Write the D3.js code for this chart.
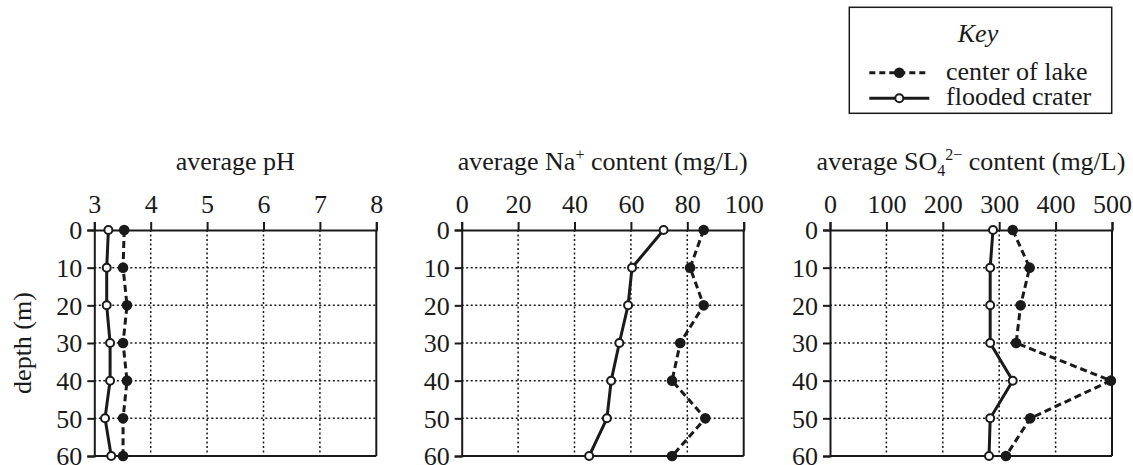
<!DOCTYPE html>
<html>
<head>
<meta charset="utf-8">
<script src="https://cdn.jsdelivr.net/npm/d3@7"></script>
</head>
<body style="margin:0;padding:0;background:#fff;font-family:'Liberation Serif',serif">
<svg id="chart" width="1133" height="465" style="display:block;font-family:'Liberation Serif',serif" font-family="Liberation Serif"></svg>
<script>
// ---- data ----
const depths = [0, 10, 20, 30, 40, 50, 60];
const depthTicks = [0, 10, 20, 30, 40, 50, 60];

const phCenter  = [3.53, 3.51, 3.58, 3.51, 3.58, 3.51, 3.51];
const phCrater  = [3.25, 3.22, 3.22, 3.28, 3.28, 3.19, 3.30];
const phTicks   = [3, 4, 5, 6, 7, 8];

const naCenter  = [85.8, 81.0, 85.8, 77.5, 74.6, 86.4, 74.6];
const naCrater  = [71.6, 60.4, 59.0, 55.9, 53.0, 51.5, 45.2];
const naTicks   = [0, 20, 40, 60, 80, 100];

const so4Center = [324, 354, 338, 330, 498, 355, 312];
const so4Crater = [289, 284, 284, 284, 324, 284, 282];
const so4Ticks  = [0, 100, 200, 300, 400, 500];

const seriesNames = ["center of lake", "flooded crater"];
const yLabel = "depth (m)";

// ---- layout ----
const svg = d3.select("#chart");
const ink = "#1a1a1a";
const FS = 26;
const yTop = 230, yBot = 456;
const panelW = 282;
const y = d3.scaleLinear().domain([0, 60]).range([yTop, yBot]);

function txt(sel) {
  return sel.attr("font-family", "Liberation Serif")
    .style("font-family", '"Liberation Serif"')
    .attr("font-size", FS).attr("fill", ink);
}

const panels = [
  { x0: 94.3,  ticks: phTicks,  center: phCenter,  crater: phCrater,
    title: [{t: "average pH"}] },
  { x0: 461.7, ticks: naTicks,  center: naCenter,  crater: naCrater,
    title: [{t: "average Na"}, {t: "+", sup: true}, {t: " content (mg/L)"}] },
  { x0: 830,   ticks: so4Ticks, center: so4Center, crater: so4Crater,
    title: [{t: "average SO"}, {t: "4", sub: true}, {t: "2\u2212", sup: true}, {t: " content (mg/L)"}] }
];

panels.forEach(p => {
  const x = d3.scaleLinear()
    .domain([p.ticks[0], p.ticks[p.ticks.length - 1]])
    .range([p.x0, p.x0 + panelW]);
  const g = svg.append("g");

  const innerX = p.ticks.slice(1, -1);
  g.selectAll(".vg").data(innerX).enter().append("line")
    .attr("x1", d => x(d)).attr("x2", d => x(d))
    .attr("y1", yTop).attr("y2", yBot)
    .attr("stroke", ink).attr("stroke-width", 1.5).attr("stroke-dasharray", "2,2.5");
  const innerY = depthTicks.slice(1, -1);
  g.selectAll(".hg").data(innerY).enter().append("line")
    .attr("x1", x.range()[0]).attr("x2", x.range()[1])
    .attr("y1", d => y(d)).attr("y2", d => y(d))
    .attr("stroke", ink).attr("stroke-width", 1.5).attr("stroke-dasharray", "2,2.5");

  g.append("line").attr("x1", x.range()[0]).attr("x2", x.range()[1])
    .attr("y1", yBot).attr("y2", yBot).attr("stroke", ink).attr("stroke-width", 2);
  g.append("line").attr("x1", x.range()[1]).attr("x2", x.range()[1])
    .attr("y1", yTop).attr("y2", yBot).attr("stroke", ink).attr("stroke-width", 2);

  const ax = g.append("g").attr("transform", `translate(0,${yTop})`)
    .call(d3.axisTop(x).tickValues(p.ticks).tickFormat(d3.format("d"))
      .tickSize(8).tickSizeOuter(8).tickPadding(9));
  const ay = g.append("g").attr("transform", `translate(${p.x0},0)`)
    .call(d3.axisLeft(y).tickValues(depthTicks).tickFormat(d3.format("d"))
      .tickSize(7).tickSizeOuter(7).tickPadding(5));
  [ax, ay].forEach(a => {
    a.attr("font-family", "Liberation Serif").attr("font-size", FS);
    a.select(".domain").attr("stroke", ink).attr("stroke-width", 2);
    a.selectAll(".tick line").attr("stroke", ink).attr("stroke-width", 2);
    txt(a.selectAll(".tick text"));
  });
  ay.selectAll(".tick text").attr("dy", "0.34em");

  const tt = txt(g.append("text").attr("x", p.x0 + panelW / 2).attr("y", 170)
    .attr("text-anchor", "middle"));
  let cur = 0;
  p.title.forEach(s => {
    const ts = tt.append("tspan").text(s.t);
    let target = 0;
    if (s.sup) { target = -10; ts.attr("font-size", 16); }
    if (s.sub) { target = 6; ts.attr("font-size", 16); }
    ts.attr("dy", target - cur);
    cur = target;
  });

  const line = d3.line().x(d => x(d[0])).y(d => y(d[1]));
  const centerPts = depths.map((d, i) => [p.center[i], d]);
  const craterPts = depths.map((d, i) => [p.crater[i], d]);

  g.append("path").datum(centerPts).attr("d", line)
    .attr("fill", "none").attr("stroke", ink).attr("stroke-width", 3)
    .attr("stroke-dasharray", "7,4");
  g.append("path").datum(craterPts).attr("d", line)
    .attr("fill", "none").attr("stroke", ink).attr("stroke-width", 3);

  g.selectAll(".cm").data(centerPts).enter().append("circle")
    .attr("cx", d => x(d[0])).attr("cy", d => y(d[1])).attr("r", 5.3)
    .attr("fill", ink);
  g.selectAll(".om").data(craterPts).enter().append("circle")
    .attr("cx", d => x(d[0])).attr("cy", d => y(d[1])).attr("r", 4)
    .attr("fill", "#fff").attr("stroke", ink).attr("stroke-width", 2);
});

txt(svg.append("text")
  .attr("transform", `translate(31,${(yTop + yBot) / 2}) rotate(-90)`)
  .attr("text-anchor", "middle").text(yLabel));

// ---- legend ----
const lg = svg.append("g");
lg.append("rect").attr("x", 849.3).attr("y", 7.3).attr("width", 262.4).attr("height", 106)
  .attr("fill", "#fff").attr("stroke", ink).attr("stroke-width", 1.5);
txt(lg.append("text").attr("x", 978).attr("y", 42).attr("text-anchor", "middle"))
  .attr("font-style", "italic").text("Key");
const rows = [{ y: 72.7, ty: 80, dashed: true }, { y: 98.3, ty: 105, dashed: false }];
rows.forEach((r, i) => {
  lg.append("line").attr("x1", 869.3).attr("x2", 929.3).attr("y1", r.y).attr("y2", r.y)
    .attr("stroke", ink).attr("stroke-width", 3)
    .attr("stroke-dasharray", r.dashed ? "6,4" : null);
  if (r.dashed) {
    lg.append("circle").attr("cx", 899.3).attr("cy", r.y).attr("r", 5.3).attr("fill", ink);
  } else {
    lg.append("circle").attr("cx", 899.3).attr("cy", r.y).attr("r", 4)
      .attr("fill", "#fff").attr("stroke", ink).attr("stroke-width", 2);
  }
  txt(lg.append("text").attr("x", 946).attr("y", r.ty)).text(seriesNames[i]);
});
</script>
</body>
</html>
